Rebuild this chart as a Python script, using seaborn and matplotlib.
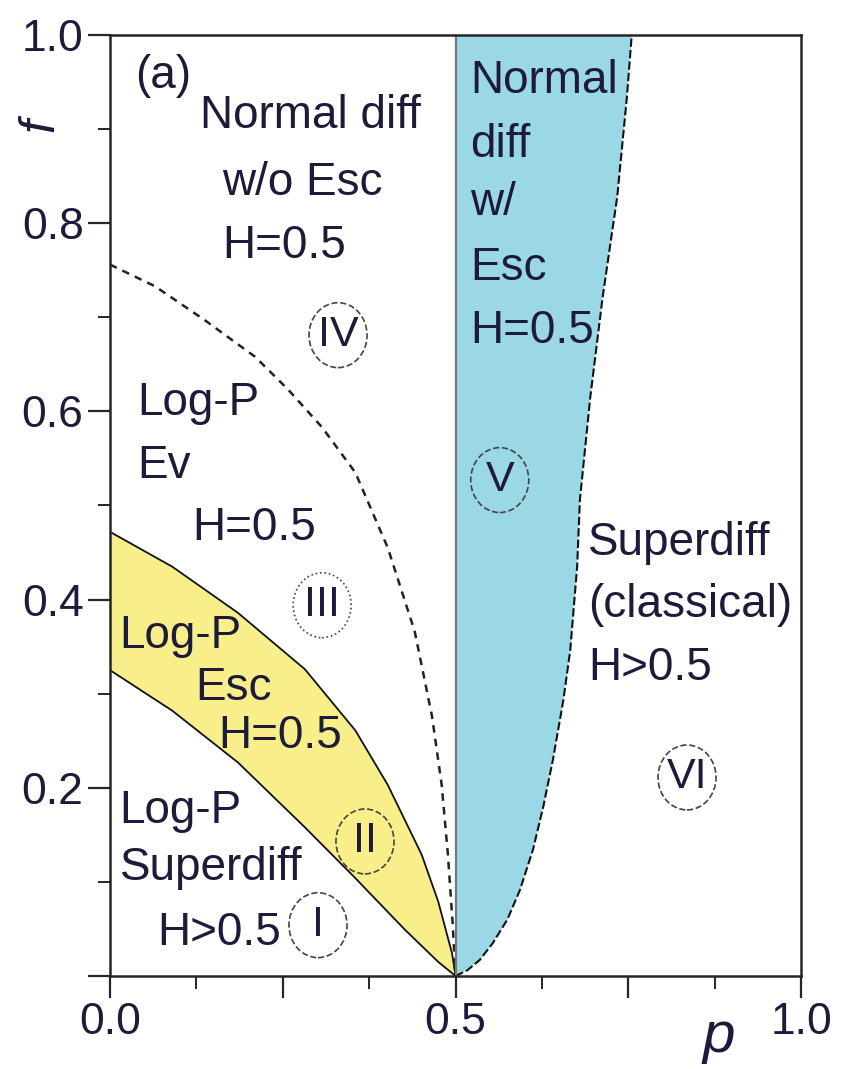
import numpy as np
import matplotlib
matplotlib.use("Agg")
import matplotlib.pyplot as plt
from matplotlib.patches import Ellipse
import seaborn as sns

# ---- data ----
dash_p = [0.0, 0.065, 0.137, 0.210, 0.258, 0.307, 0.355, 0.402, 0.441, 0.466, 0.480, 0.489, 0.496, 0.5]
dash_f = [0.756, 0.733, 0.697, 0.658, 0.623, 0.583, 0.535, 0.455, 0.366, 0.276, 0.203, 0.129, 0.054, 0.0]

up_p = [0.0, 0.090, 0.185, 0.282, 0.355, 0.402, 0.451, 0.475, 0.495, 0.5]
up_f = [0.472, 0.435, 0.386, 0.326, 0.261, 0.203, 0.129, 0.079, 0.024, 0.0]

lo_p = [0.0, 0.090, 0.185, 0.282, 0.355, 0.427, 0.475, 0.5]
lo_f = [0.325, 0.282, 0.227, 0.158, 0.104, 0.049, 0.015, 0.0]

bl_p = [0.5, 0.517, 0.535, 0.554, 0.575, 0.593, 0.612, 0.627, 0.641, 0.656, 0.666, 0.676,
        0.680, 0.695, 0.713, 0.734, 0.748, 0.755]
bl_f = [0.0, 0.006, 0.017, 0.035, 0.060, 0.091, 0.134, 0.180, 0.230, 0.293, 0.346, 0.435,
        0.506, 0.615, 0.722, 0.828, 0.934, 1.0]

labels = ["(a)", "Normal diff", "w/o Esc", "H=0.5",
          "Normal", "diff", "w/", "Esc", "H=0.5",
          "Log-P", "Ev", "H=0.5",
          "Log-P", "Esc", "H=0.5",
          "Log-P", "Superdiff", "H>0.5",
          "Superdiff", "(classical)", "H>0.5"]
label_p = [0.036, 0.130, 0.162, 0.162,
           0.521, 0.521, 0.521, 0.521, 0.521,
           0.039, 0.039, 0.119,
           0.014, 0.123, 0.156,
           0.014, 0.014, 0.068,
           0.692, 0.692, 0.692]
label_f = [0.944, 0.901, 0.830, 0.763,
           0.938, 0.870, 0.809, 0.740, 0.673,
           0.596, 0.529, 0.463,
           0.349, 0.293, 0.242,
           0.163, 0.102, 0.033,
           0.447, 0.381, 0.315]

roman = ["I", "II", "III", "IV", "V", "VI"]
roman_p = [0.301, 0.369, 0.307, 0.330, 0.564, 0.835]
roman_f = [0.054, 0.143, 0.394, 0.681, 0.527, 0.211]
roman_ls = ["--", "--", ":", "--", "--", "--"]

xticks = [0.0, 0.25, 0.5, 0.75, 1.0]
xticklabels = ["0.0", "", "0.5", "", "1.0"]
yticks = [0.0, 0.2, 0.4, 0.6, 0.8, 1.0]
yticklabels = ["", "0.2", "0.4", "0.6", "0.8", "1.0"]

# ---- style ----
sns.set_style("ticks")
plt.rcParams['font.family'] = ['Liberation Sans', 'DejaVu Sans']

tc = "#1e1b3a"
yellow = "#f8ef8a"
blue = "#9ad8e5"

fig = plt.figure(figsize=(8.5, 10.69), dpi=100)
ax = fig.add_axes([0.1294, 0.0870, 0.813, 0.8803])

# fills
ax.fill(up_p + lo_p[::-1], up_f + lo_f[::-1], color=yellow, lw=0, zorder=1)
ax.fill([0.5, 0.5] + bl_p[::-1], [0.0, 1.0] + bl_f[::-1], color=blue, lw=0, zorder=1)

# lines
sns.lineplot(x=up_p, y=up_f, sort=False, estimator=None, ax=ax, color="#111111", lw=1.3, zorder=3)
sns.lineplot(x=lo_p, y=lo_f, sort=False, estimator=None, ax=ax, color="#111111", lw=1.3, zorder=3)
sns.lineplot(x=dash_p, y=dash_f, sort=False, estimator=None, ax=ax, color="#222222", lw=1.8,
             linestyle=(0, (3, 2.5)), zorder=3)
sns.lineplot(x=bl_p, y=bl_f, sort=False, estimator=None, ax=ax, color="#111111", lw=1.5,
             linestyle=(0, (4, 1.5)), zorder=3)
sns.lineplot(x=[0.5, 0.5], y=[0.0, 1.0], sort=False, estimator=None, ax=ax, color="#777777", lw=1.6, zorder=3)

# texts
for t, px, py in zip(labels, label_p, label_f):
    ax.text(px, py, t, fontsize=33, color=tc, ha='left', va='baseline', zorder=5)

for t, px, py, ls in zip(roman, roman_p, roman_f, roman_ls):
    ax.add_patch(Ellipse((px, py), width=0.084, height=0.069, fill=False, ls=ls,
                         lw=1.2, ec="#444444", zorder=4))
    ax.text(px, py, t, fontsize=31, color=tc, ha='center', va='center', zorder=5)

ax.set_xlim(0, 1)
ax.set_ylim(0, 1)
ax.set_xticks(xticks)
ax.set_xticklabels(xticklabels)
ax.set_xticks([0.125, 0.375, 0.625, 0.875], minor=True)
ax.set_yticks(yticks)
ax.set_yticklabels(yticklabels)
ax.set_yticks([0.1, 0.3, 0.5, 0.7, 0.9], minor=True)
ax.tick_params(which='major', direction='out', length=16, width=1.6, labelsize=32,
               labelcolor=tc, pad=3)
ax.tick_params(which='minor', direction='out', length=9, width=1.4)
for s in ax.spines.values():
    s.set_linewidth(1.8)
    s.set_zorder(6)
ax.set_xlabel("")
ax.set_ylabel("")

fig.text(0.048, 0.883, "f", rotation=90, style='italic', fontsize=36, color=tc,
         ha='center', va='center')
fig.text(0.845, 0.030, "p", style='italic', fontsize=42, color=tc,
         ha='center', va='center')

fig.savefig("out.png", dpi=100)
